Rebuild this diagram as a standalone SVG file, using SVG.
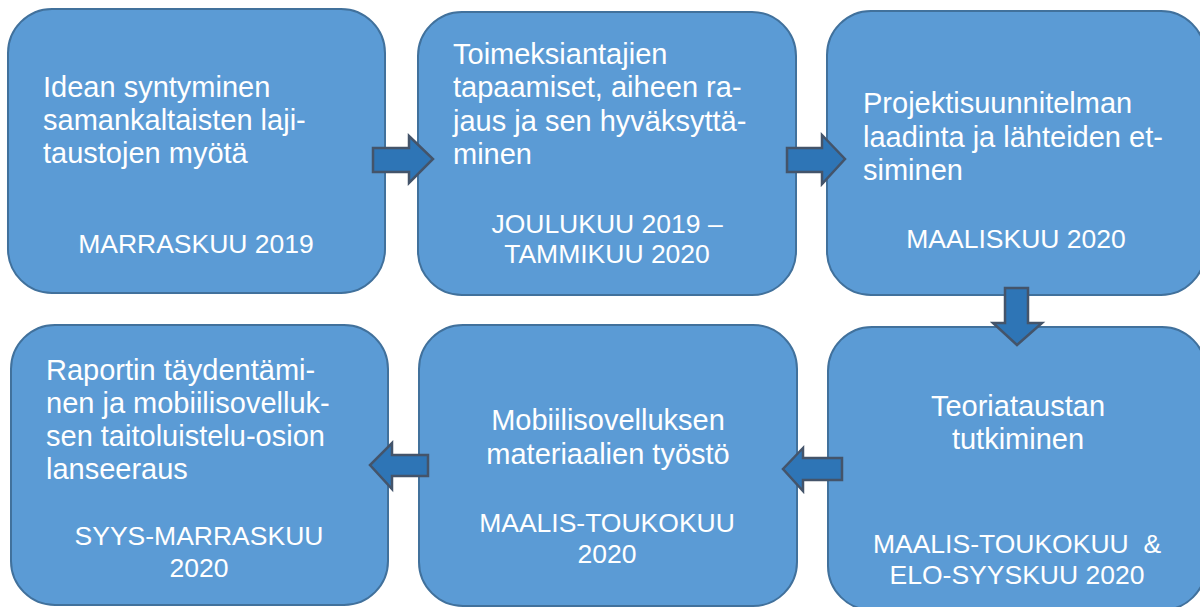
<svg xmlns="http://www.w3.org/2000/svg" width="1200" height="607" viewBox="0 0 1200 607">
  <style>
    .box { fill: #5B9BD5; stroke: #41719C; stroke-width: 2; }
    .arrow { fill: #2E75B6; stroke: #44546A; stroke-width: 2.5; stroke-linejoin: miter; }
    text { font-family: "Liberation Sans", Arial, sans-serif; fill: #FFFFFF; }
    .body { font-size: 29px; }
    .date { font-size: 26.5px; text-anchor: middle; }
    .mid { text-anchor: middle; }
  </style>
  <rect width="1200" height="607" fill="#FFFFFF"/>

  <g id="step1">
    <rect class="box" x="8" y="9" width="377" height="284" rx="44" ry="44"/>
    <text class="body" x="43" y="97">Idean syntyminen</text>
    <text class="body" x="43" y="130">samankaltaisten laji-</text>
    <text class="body" x="43" y="163">taustojen myötä</text>
    <text class="date" x="196" y="253">MARRASKUU 2019</text>
  </g>

  <g id="step2">
    <rect class="box" x="418" y="12" width="378" height="283" rx="44" ry="44"/>
    <text class="body" x="453" y="64">Toimeksiantajien</text>
    <text class="body" x="453" y="97">tapaamiset, aiheen ra-</text>
    <text class="body" x="453" y="130.5">jaus ja sen hyväksyttä-</text>
    <text class="body" x="453" y="164">minen</text>
    <text class="date" x="607" y="233">JOULUKUU 2019 –</text>
    <text class="date" x="607" y="263">TAMMIKUU 2020</text>
  </g>

  <g id="step3">
    <rect class="box" x="827" y="11" width="378" height="284" rx="44" ry="44"/>
    <text class="body" x="863" y="113">Projektisuunnitelman</text>
    <text class="body" x="863" y="147">laadinta ja lähteiden et-</text>
    <text class="body" x="863" y="180">siminen</text>
    <text class="date" x="1016" y="248">MAALISKUU 2020</text>
  </g>

  <g id="step4">
    <rect class="box" x="828" y="327" width="378" height="283" rx="44" ry="44"/>
    <text class="body mid" x="1018" y="416">Teoriataustan</text>
    <text class="body mid" x="1018" y="449">tutkiminen</text>
    <text class="date" x="1017" y="553" xml:space="preserve">MAALIS-TOUKOKUU  &amp;</text>
    <text class="date" x="1017" y="584">ELO-SYYSKUU 2020</text>
  </g>

  <g id="step5">
    <rect class="box" x="419" y="325" width="378" height="281" rx="44" ry="44"/>
    <text class="body mid" x="608" y="430">Mobiilisovelluksen</text>
    <text class="body mid" x="608" y="464">materiaalien työstö</text>
    <text class="date" x="607" y="532">MAALIS-TOUKOKUU</text>
    <text class="date" x="607" y="563">2020</text>
  </g>

  <g id="step6">
    <rect class="box" x="11" y="325" width="377" height="280" rx="44" ry="44"/>
    <text class="body" x="46" y="380">Raportin täydentämi-</text>
    <text class="body" x="46" y="413">nen ja mobiilisovelluk-</text>
    <text class="body" x="46" y="446">sen taitoluistelu-osion</text>
    <text class="body" x="46" y="479">lanseeraus</text>
    <text class="date" x="199" y="545">SYYS-MARRASKUU</text>
    <text class="date" x="199" y="577">2020</text>
  </g>

  <!-- connectors: block arrows between the steps, drawn over the box edges -->
  <g id="connectors">
    <polygon class="arrow" points="373,148 409,148 409,136 433,159 409,183 409,172 373,172"/>
    <polygon class="arrow" points="787,148 822,148 822,135 845,159 822,184 822,172 787,172"/>
    <polygon class="arrow" points="1005,288 1028,288 1028,323 1042,323 1017,345 993,323 1005,323"/>
    <polygon class="arrow" points="842,458 803,458 803,448 783,469 803,491 803,480 842,480"/>
    <polygon class="arrow" points="428,455 392,455 392,443 370,465 392,489 392,476 428,476"/>
  </g>
</svg>
